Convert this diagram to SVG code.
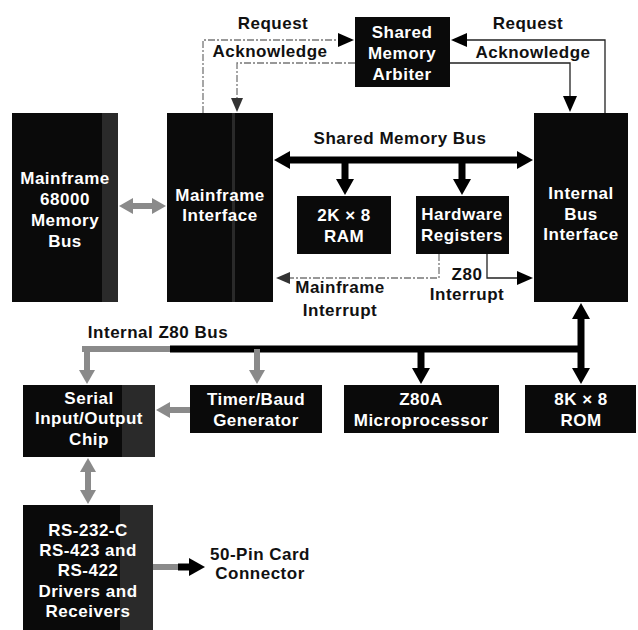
<svg xmlns="http://www.w3.org/2000/svg" width="638" height="630" viewBox="0 0 638 630">
<style>
  .box { fill: #0a0a0a; }
  .t { font-family: "Liberation Sans", Arial, Helvetica, sans-serif; font-weight: bold; font-size: 17px; letter-spacing: 0.5px; text-anchor: middle; }
  .w { fill: #ffffff; }
  .k { fill: #111111; }
  .thin { fill: none; stroke: #222; stroke-width: 1.3; }
  .faint { fill: none; stroke: #777; stroke-width: 1.3; stroke-dasharray: 7 2 2 2; }
  .bus { fill: none; stroke: #000; stroke-width: 7; }
  .gbus { fill: none; stroke: #8a8a8a; stroke-width: 6; }
  .grain { fill: #666; opacity: 0.35; }
</style>
<defs>
  <marker id="big" markerUnits="userSpaceOnUse" markerWidth="16" markerHeight="20" viewBox="0 0 16 20" refX="1" refY="10" orient="auto-start-reverse">
    <path d="M0,1 L16,10 L0,19 z" fill="#000"/>
  </marker>
  <marker id="gbig" markerUnits="userSpaceOnUse" markerWidth="14" markerHeight="18" viewBox="0 0 14 18" refX="1" refY="9" orient="auto-start-reverse">
    <path d="M0,1 L14,9 L0,17 z" fill="#8a8a8a"/>
  </marker>
  <marker id="sm" markerUnits="userSpaceOnUse" markerWidth="16" markerHeight="14" viewBox="0 0 16 14" refX="1" refY="7" orient="auto">
    <path d="M0,0 L16,7 L0,14 z" fill="#000"/>
  </marker>
  <marker id="gsm" markerUnits="userSpaceOnUse" markerWidth="14" markerHeight="12" viewBox="0 0 14 12" refX="1" refY="6" orient="auto">
    <path d="M0,0 L14,6 L0,12 z" fill="#333"/>
  </marker>
</defs>

<g id="connectors">
  <!-- Request / Acknowledge (left) -->
  <polyline class="faint" points="203,113 203,40 339,40" marker-end="url(#sm)"/>
  <polyline class="faint" points="355,63 237,63 237,99" marker-end="url(#gsm)"/>
  <!-- Request / Acknowledge (right) -->
  <polyline class="thin" points="605,113 605,40 466,40" marker-end="url(#sm)"/>
  <polyline class="thin" points="450,63 570,63 570,97" marker-end="url(#sm)"/>
  <!-- Shared memory bus -->
  <line class="bus" x1="289" y1="160" x2="518" y2="160" marker-start="url(#big)" marker-end="url(#big)"/>
  <line class="bus" x1="345" y1="160" x2="345" y2="180" stroke-width="9" marker-end="url(#big)"/>
  <line class="bus" x1="462" y1="160" x2="462" y2="180" stroke-width="9" marker-end="url(#big)"/>
  <!-- 68000 <-> Mainframe Interface -->
  <line class="gbus" x1="132" y1="206" x2="153" y2="206" stroke-width="4" marker-start="url(#gbig)" marker-end="url(#gbig)"/>
  <!-- Interrupts -->
  <polyline class="faint" points="439,254 439,278 289,278" marker-end="url(#gsm)"/>
  <polyline class="thin" points="487,254 487,278 518,278" marker-end="url(#sm)"/>
  <!-- Internal Z80 bus -->
  <line class="gbus" x1="82" y1="349" x2="170" y2="349" stroke-width="7"/>
  <line class="bus" x1="170" y1="349" x2="584" y2="349"/>
  <line class="bus" x1="581" y1="318" x2="581" y2="369" marker-start="url(#big)" marker-end="url(#big)"/>
  <line class="bus" x1="421" y1="349" x2="421" y2="369" stroke-width="9" marker-end="url(#big)"/>
  <line class="gbus" x1="87" y1="349" x2="87" y2="371" stroke-width="8" marker-end="url(#gbig)"/>
  <line class="gbus" x1="257" y1="349" x2="257" y2="371" stroke-width="8" marker-end="url(#gbig)"/>
  <!-- Timer -> Serial -->
  <line class="gbus" x1="190" y1="410" x2="169" y2="410" stroke-width="7" marker-end="url(#gbig)"/>
  <!-- Serial <-> RS drivers -->
  <line class="gbus" x1="88" y1="471" x2="88" y2="491" stroke-width="6" marker-start="url(#gbig)" marker-end="url(#gbig)"/>
  <!-- RS drivers -> 50-pin -->
  <line class="gbus" x1="153" y1="567" x2="180" y2="567" stroke-width="6"/>
  <line class="bus" x1="178" y1="567" x2="190" y2="567" stroke-width="6" marker-end="url(#big)"/>
</g>

<g id="mainframe-bus">
  <rect class="box" x="12" y="113" width="106" height="189"/>
  <rect class="grain" x="102" y="113" width="16" height="189"/>
  <text class="t w" x="65" y="184">Mainframe</text>
  <text class="t w" x="65" y="205">68000</text>
  <text class="t w" x="65" y="226">Memory</text>
  <text class="t w" x="65" y="247">Bus</text>
</g>

<g id="mainframe-interface">
  <rect class="box" x="167" y="113" width="106" height="189"/>
  <rect class="grain" x="232" y="113" width="3" height="189"/>
  <text class="t w" x="220" y="201">Mainframe</text>
  <text class="t w" x="220" y="221">Interface</text>
</g>

<g id="arbiter">
  <rect class="box" x="355" y="17" width="95" height="70"/>
  <text class="t w" x="402" y="38">Shared</text>
  <text class="t w" x="402" y="59">Memory</text>
  <text class="t w" x="402" y="80">Arbiter</text>
</g>

<g id="internal-bus-interface">
  <rect class="box" x="534" y="113" width="94" height="189"/>
  <text class="t w" x="581" y="199">Internal</text>
  <text class="t w" x="581" y="220">Bus</text>
  <text class="t w" x="581" y="240">Interface</text>
</g>

<g id="ram">
  <rect class="box" x="297" y="196" width="94" height="58"/>
  <text class="t w" x="344" y="221">2K × 8</text>
  <text class="t w" x="344" y="242">RAM</text>
</g>

<g id="hw-registers">
  <rect class="box" x="416" y="196" width="93" height="58"/>
  <text class="t w" x="462" y="220">Hardware</text>
  <text class="t w" x="462" y="241">Registers</text>
</g>

<g id="serial">
  <rect class="box" x="23" y="385" width="132" height="72"/>
  <rect class="grain" x="122" y="385" width="33" height="72"/>
  <text class="t w" x="89" y="404">Serial</text>
  <text class="t w" x="89" y="424">Input/Output</text>
  <text class="t w" x="89" y="445">Chip</text>
</g>

<g id="timer">
  <rect class="box" x="190" y="385" width="132" height="48"/>
  <text class="t w" x="256" y="405">Timer/Baud</text>
  <text class="t w" x="256" y="426">Generator</text>
</g>

<g id="z80a">
  <rect class="box" x="344" y="385" width="155" height="48"/>
  <text class="t w" x="421" y="405">Z80A</text>
  <text class="t w" x="421" y="426">Microprocessor</text>
</g>

<g id="rom">
  <rect class="box" x="525" y="385" width="111" height="48"/>
  <text class="t w" x="581" y="405">8K × 8</text>
  <text class="t w" x="581" y="426">ROM</text>
</g>

<g id="rs-drivers">
  <rect class="box" x="23" y="505" width="130" height="125"/>
  <rect class="grain" x="120" y="505" width="33" height="125"/>
  <text class="t w" x="88" y="536">RS-232-C</text>
  <text class="t w" x="88" y="556">RS-423 and</text>
  <text class="t w" x="88" y="576">RS-422</text>
  <text class="t w" x="88" y="597">Drivers and</text>
  <text class="t w" x="88" y="617">Receivers</text>
</g>

<g id="labels">
  <text class="t k" x="273" y="29">Request</text>
  <text class="t k" x="270" y="57">Acknowledge</text>
  <text class="t k" x="528" y="29">Request</text>
  <text class="t k" x="533" y="58">Acknowledge</text>
  <text class="t k" x="400" y="144">Shared Memory Bus</text>
  <text class="t k" x="340" y="293">Mainframe</text>
  <text class="t k" x="340" y="316">Interrupt</text>
  <text class="t k" x="467" y="280">Z80</text>
  <text class="t k" x="467" y="300">Interrupt</text>
  <text class="t k" x="158" y="338">Internal Z80 Bus</text>
  <text class="t k" x="260" y="560">50-Pin Card</text>
  <text class="t k" x="260" y="579">Connector</text>
</g>
</svg>
